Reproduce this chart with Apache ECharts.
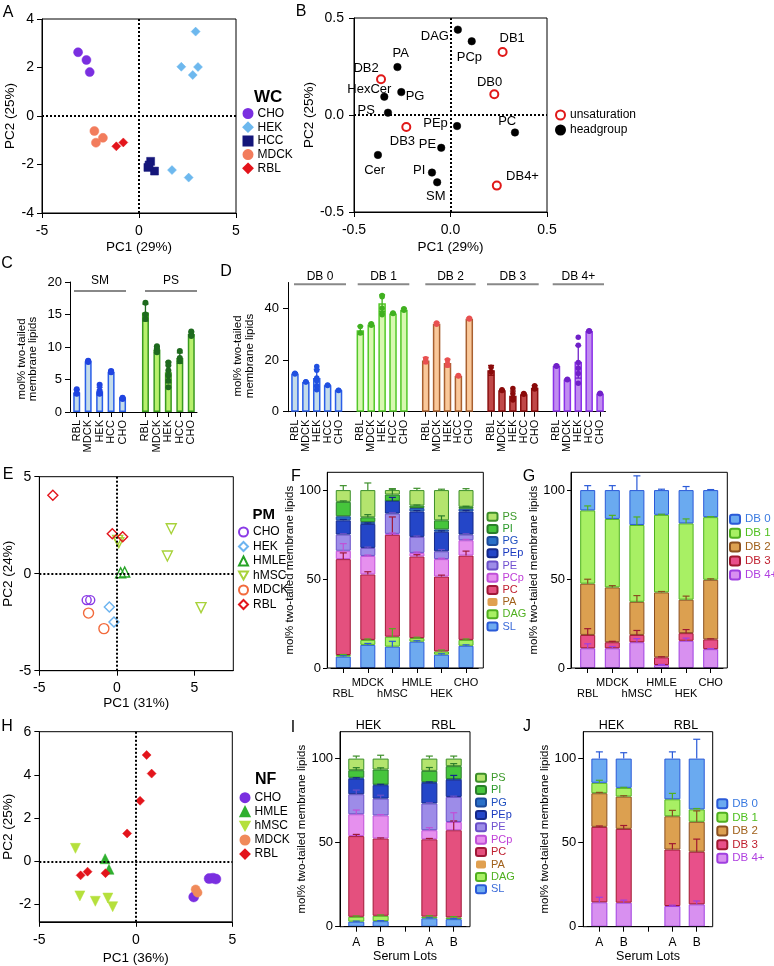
<!DOCTYPE html>
<html>
<head>
<meta charset="utf-8">
<title>Lipidomics figure</title>
<script src="https://cdn.jsdelivr.net/npm/echarts@6/dist/echarts.min.js"></script>
<style>
html,body{margin:0;padding:0;background:#fff;}
#chart{width:774px;height:966px;}
</style>
</head>
<body>
<div id="chart"></div>
<script>
// ================= DATA =================
// Panel A: whole-cell (WC) PCA scores [PC1, PC2]
const aCHO  = [[-3.14, 2.63], [-2.71, 2.31], [-2.54, 1.81]];
const aHEK  = [[2.92, 3.48], [2.18, 2.03], [3.04, 2.02], [2.77, 1.69], [1.70, -2.23], [2.56, -2.54]];
const aHCC  = [[0.60, -1.87], [0.46, -2.12], [0.80, -2.27], [0.52, -2.02]];
const aMDCK = [[-2.30, -0.62], [-2.22, -1.10], [-1.86, -0.90]];
const aRBL  = [[-1.17, -1.25], [-0.81, -1.09]];

// Panel B: loadings
const bHeadNames  = ['DAG', 'PCp', 'PA', 'HexCer', 'PG', 'PS', 'PEp', 'PC', 'PE', 'Cer', 'PI', 'SM'];
const bHeadPts    = [[0.038, 0.44], [0.11, 0.38], [-0.275, 0.247], [-0.343, 0.094], [-0.255, 0.118], [-0.324, 0.012],
                     [0.034, -0.057], [0.334, -0.09], [-0.048, -0.169], [-0.376, -0.206], [-0.096, -0.297], [-0.069, -0.347]];
const bUnsatNames = ['DB1', 'DB2', 'DB0', 'DB3', 'DB4+'];
const bUnsatPts   = [[0.27, 0.325], [-0.36, 0.184], [0.227, 0.107], [-0.229, -0.062], [0.24, -0.364]];

// Panel C: SM and PS (mol%)
const cellLines = ['RBL', 'MDCK', 'HEK', 'HCC', 'CHO'];
const cGroups   = ['SM', 'PS'];
const cSM       = [3.0, 7.8, 3.2, 6.2, 2.1];
const cSMerr    = [0.4, 0.1, 0.6, 0.2, 0.1];
const cSMpts    = [[3.5, 2.9, 2.8], [7.8, 7.7, 7.9], [4.2, 3.3, 2.9, 2.8], [6.3, 6.1, 6.2], [2.1, 2.0, 2.2]];
const cPS       = [15.3, 9.6, 6.1, 8.3, 12.0];
const cPSerr    = [1.3, 0.5, 1.6, 0.8, 0.3];
const cPSpts    = [[16.8, 15.0, 14.3], [10.1, 9.5, 9.2, 9.8], [7.6, 7.2, 6.4, 5.6, 4.8, 3.8], [9.4, 8.3, 7.8], [12.4, 11.9, 11.7]];

// Panel D: double bonds (mol%)
const dGroups  = ['DB 0', 'DB 1', 'DB 2', 'DB 3', 'DB 4+'];
const dDB0     = [14.8, 11.5, 13.0, 10.2, 8.3];
const dDB0err  = [0.3, 0.2, 3.4, 0.2, 0.1];
const dDB0pts  = [[14.9, 14.6], [11.5, 11.6], [17.5, 16.0, 13.0, 12.0, 10.0, 8.5], [10.3, 10.1], [8.3, 8.2]];
const dDB1     = [31.5, 33.7, 42.0, 38.0, 39.5];
const dDB1err  = [1.6, 0.5, 3.2, 0.2, 0.5];
const dDB1pts  = [[33.0, 30.5], [34.0, 33.5], [45.0, 44.5, 40.0, 38.0, 37.5], [38.0, 38.2], [39.8, 39.3]];
const dDB2     = [19.8, 34.0, 18.8, 13.8, 36.0];
const dDB2err  = [1.2, 0.5, 1.5, 0.3, 0.3];
const dDB2pts  = [[20.5, 19.3], [34.3, 33.8], [20.0, 18.5, 18.0], [14.0, 13.8], [36.2, 35.9]];
const dDB3     = [16.0, 8.3, 6.2, 6.8, 9.3];
const dDB3err  = [1.9, 0.2, 1.8, 0.3, 0.8];
const dDB3pts  = [[17.2, 15.5], [8.5, 8.2], [9.0, 7.0, 5.5, 4.5], [7.0, 6.8], [10.0, 9.2, 8.8]];
const dDB4     = [17.7, 12.5, 19.3, 31.2, 7.0];
const dDB4err  = [0.3, 0.2, 6.3, 0.3, 0.2];
const dDB4pts  = [[17.8, 17.6], [12.6, 12.4], [28.8, 25.7, 19.0, 16.8, 14.8, 11.0], [31.3, 31.1], [7.1, 6.9]];

// Panel E: plasma membrane (PM) PCA scores
const eCHO  = [[-1.95, -1.36], [-1.72, -1.36]];
const eHEK  = [[-0.49, -1.72], [-0.19, -2.49]];
const eHMLE = [[0.24, 0.05], [0.50, 0.09]];
const eMSC  = [[0.05, 1.72], [0.12, 1.60], [3.50, 2.32], [3.25, 0.91], [5.42, -1.75]];
const eMDCK = [[-1.83, -2.03], [-0.84, -2.83]];
const eRBL  = [[-4.13, 4.04], [-0.30, 2.06], [0.37, 1.91]];

// Panel F: PM headgroups (stack bottom -> top)
const pmLines = ['RBL', 'MDCK', 'hMSC', 'HMLE', 'HEK', 'CHO'];
const fSL  = [6.4, 13.0, 12.0, 14.8, 7.5, 12.5];
const fDAG = [0.9, 2.8, 5.6, 2.0, 1.8, 3.3];
const fPA  = [0, 0, 0, 0, 0, 0];
const fPC  = [53.9, 36.8, 57.3, 45.9, 42.1, 47.4];
const fPCp = [4.7, 10.4, 0.5, 2.0, 9.8, 8.6];
const fPE  = [9.1, 4.5, 11.4, 9.0, 4.4, 3.2];
const fPEp = [8.0, 13.5, 7.1, 14.3, 11.0, 13.0];
const fPG  = [2.3, 1.0, 0.0, 1.9, 1.3, 1.5];
const fPI  = [8.1, 2.7, 3.6, 1.4, 5.1, 1.1];
const fPS  = [6.6, 15.3, 2.5, 8.7, 17.0, 9.4];
const fErrSL  = [0.5, 0.8, 3.0, 0.5, 0.5, 0.5];
const fErrDAG = [0.3, 0.5, 4.5, 0.5, 0.8, 0.5];
const fErrPC  = [3.5, 1.5, 10.0, 1.0, 0.8, 2.5];
const fErrPCp = [4.0, 0.5, 0.5, 0.5, 0.5, 0.5];
const fErrPE  = [0.5, 0.5, 0.5, 0.5, 1.0, 0.5];
const fErrPEp = [0.5, 0.5, 2.0, 0.5, 0.5, 0.5];
const fErrPI  = [0.5, 1.5, 3.0, 0.3, 2.5, 0.3];
const fErrPS  = [2.5, 4.0, 0.8, 1.0, 0.5, 0.8];

// Panel G: PM double bonds (stack bottom -> top)
const gDB4 = [11.1, 11.1, 14.5, 1.7, 15.3, 10.6];
const gDB3 = [7.5, 3.4, 4.1, 4.3, 4.3, 5.5];
const gDB2 = [28.8, 30.8, 18.6, 36.5, 18.8, 33.5];
const gDB1 = [41.2, 38.5, 43.2, 43.6, 42.9, 35.2];
const gDB0 = [11.4, 16.2, 19.6, 13.9, 18.7, 15.2];
const gErrDB4 = [2.5, 1.0, 2.0, 0.3, 1.5, 0.3];
const gErrDB3 = [3.5, 0.5, 2.5, 0.3, 2.0, 0.3];
const gErrDB2 = [2.5, 1.0, 3.5, 0.5, 2.0, 0.5];
const gErrDB1 = [2.5, 2.0, 4.5, 0.3, 2.5, 0.3];
const gErrDB0 = [2.5, 2.5, 8.0, 0.5, 2.0, 0.3];

// Panel H: nanoflake (NF) PCA scores
const hCHO  = [[3.80, -0.80], [4.00, -0.78], [4.15, -0.82], [3.00, -1.65]];
const hHMLE = [[-1.59, 0.12], [-1.39, -0.37]];
const hMSC  = [[-3.13, 0.60], [-2.90, -1.60], [-2.10, -1.85], [-1.45, -1.70], [-1.20, -2.10]];
const hMDCK = [[3.10, -1.30], [3.20, -1.45]];
const hRBL  = [[0.56, 4.92], [0.82, 4.06], [0.22, 2.80], [-0.45, 1.29], [-2.86, -0.65], [-2.50, -0.48], [-1.57, -0.55]];

// Panels I/J: serum lots (HEK A, HEK B, gap, RBL A, RBL B)
const lotCats  = ['HEK|A', 'HEK|B', 'gap', 'RBL|A', 'RBL|B'];
const iSL  = [3.0, 3.3, '-', 5.0, 4.5];
const iDAG = [2.9, 3.2, '-', 1.0, 1.0];
const iPA  = [0, 0, '-', 0, 0];
const iPC  = [48.0, 46.0, '-', 46.0, 51.9];
const iPCp = [13.0, 13.7, '-', 5.4, 4.9];
const iPE  = [11.9, 10.0, '-', 15.9, 14.9];
const iPEp = [9.3, 8.0, '-', 12.3, 10.3];
const iPG  = [0.5, 0.3, '-', 0.4, 0.3];
const iPI  = [4.5, 9.0, '-', 6.7, 7.7];
const iPS  = [6.9, 6.5, '-', 7.3, 4.5];
const iErrSL  = [0.3, 0.3, '-', 0.3, 0.3];
const iErrDAG = [0.5, 0.5, '-', 0.5, 0.5];
const iErrPC  = [1.0, 0.3, '-', 0.5, 5.5];
const iErrPCp = [2.5, 0.5, '-', 1.5, 5.5];
const iErrPE  = [2.5, 2.0, '-', 0.5, 0.5];
const iErrPEp = [0.5, 0.5, '-', 0.5, 2.5];
const iErrPI  = [1.5, 1.0, '-', 2.0, 1.5];
const iErrPS  = [1.5, 2.0, '-', 1.5, 1.5];

const jDB4 = [14.5, 14.3, '-', 12.3, 13.3];
const jDB3 = [44.9, 43.9, '-', 33.6, 31.3];
const jDB2 = [20.0, 19.2, '-', 19.8, 17.8];
const jDB1 = [6.2, 5.2, '-', 10.1, 7.4];
const jDB0 = [14.4, 17.4, '-', 24.2, 30.2];
const jErrDB4 = [3.0, 1.5, '-', 0.5, 2.0];
const jErrDB3 = [0.5, 2.0, '-', 3.5, 7.5];
const jErrDB2 = [0.5, 0.5, '-', 3.5, 6.5];
const jErrDB1 = [1.5, 0.3, '-', 3.5, 0.5];
const jErrDB0 = [4.0, 3.5, '-', 4.0, 11.5];

// ================= HELPERS =================
const FONT = "'Liberation Sans', Arial, Helvetica, sans-serif";
const DOWN_TRI = 'path://M0,0 L10,0 L5,9 Z';
const grids = [], xAxes = [], yAxes = [], series = [], legends = [], graphics = [];
const lbl = n => n.split('|')[1];

function valAxis(gi, c) {
  return {
    type: 'value', gridIndex: gi, min: c.min, max: c.max, offset: c.offset || 0,
    axisLine: {show: true, onZero: false, lineStyle: {color: '#000', width: 1}},
    axisTick: {show: true, length: c.tickLen || 5, customValues: c.ticks, lineStyle: {color: '#000', width: 1}},
    axisLabel: {show: true, customValues: c.ticks, margin: c.margin, fontSize: c.fs || 14, fontFamily: FONT, color: '#000', formatter: c.fmt},
    splitLine: {show: false},
    name: c.name, nameLocation: 'middle', nameGap: c.gap,
    nameTextStyle: {fontFamily: FONT, fontSize: c.nfs || 13.5, color: '#000'}
  };
}
function catAxis(gi, data, c) {
  return {
    type: 'category', gridIndex: gi, data: data, boundaryGap: true,
    axisLine: {show: true, onZero: false, lineStyle: {color: '#000', width: 1}},
    axisTick: {show: true, alignWithLabel: true, length: c.tickLen || 5, interval: c.tickInterval || 0, lineStyle: {color: '#000', width: 1}},
    axisLabel: {interval: 0, rotate: c.rotate || 0, margin: c.margin, fontSize: c.fs || 11, fontFamily: FONT, color: '#000',
                formatter: c.fmt, lineHeight: c.lh},
    splitLine: {show: false},
    name: c.name, nameLocation: 'middle', nameGap: c.gap,
    nameTextStyle: {fontFamily: FONT, fontSize: c.nfs || 12.5, color: '#000'}
  };
}
function boxGrid(box) {
  return Object.assign({show: true, borderColor: '#000', borderWidth: 1, backgroundColor: 'transparent', containLabel: false}, box);
}
function plainGrid(box) {
  return Object.assign({show: false, containLabel: false}, box);
}
const zeroLines = {
  silent: true, symbol: ['none', 'none'], label: {show: false}, animation: false,
  lineStyle: {type: 'dotted', color: '#000', width: 2},
  data: [{xAxis: 0}, {yAxis: 0}]
};
function sc(gi, name, data, sym, size, color, hollow, withZero) {
  const s = {
    type: 'scatter', name: name, xAxisIndex: gi, yAxisIndex: gi, data: data,
    symbol: sym, symbolSize: size, z: 3,
    itemStyle: hollow ? {color: 'rgba(255,255,255,0)', borderColor: color, borderWidth: 1.4, opacity: 1}
                      : {color: color, borderColor: color, borderWidth: 0.5, opacity: 1}
  };
  if (withZero) s.markLine = zeroLines;
  return s;
}
function errSeries(gi, data, color, capW, twoSided, lw) {
  return {
    type: 'custom', xAxisIndex: gi, yAxisIndex: gi, data: data, z: 5, silent: true,
    encode: {x: 0, y: [1, 2]},
    renderItem: function (params, api) {
      const x = api.value(0), lo = api.value(1), hi = api.value(2);
      const a = api.coord([x, lo]), b = api.coord([x, hi]);
      const st = {stroke: color, lineWidth: lw || 1.2, fill: null};
      const ch = [
        {type: 'line', shape: {x1: a[0], y1: a[1], x2: b[0], y2: b[1]}, style: st},
        {type: 'line', shape: {x1: b[0] - capW / 2, y1: b[1], x2: b[0] + capW / 2, y2: b[1]}, style: st}
      ];
      if (twoSided) ch.push({type: 'line', shape: {x1: a[0] - capW / 2, y1: a[1], x2: a[0] + capW / 2, y2: a[1]}, style: st});
      return {type: 'group', children: ch};
    }
  };
}
function legendBox(cfg, names, colors) {
  return {
    orient: 'vertical', left: cfg.left, top: cfg.top, itemWidth: cfg.iw, itemHeight: cfg.ih, itemGap: cfg.gap,
    padding: 0, selectedMode: false, formatter: lbl,
    data: names.map((n, i) => ({name: n, textStyle: {color: colors ? colors[i] : '#000'}})),
    textStyle: {fontFamily: FONT, fontSize: cfg.fs, lineHeight: cfg.lh, color: '#000'}
  };
}
function text(t, x, y, size, extra) {
  return Object.assign({type: 'text', x: x, y: y, silent: true,
    style: Object.assign({text: t, fontFamily: FONT, fontSize: size, fill: '#000', align: 'center', verticalAlign: 'middle'}, extra || {})});
}
function hline(x1, x2, y, color, w) {
  return {type: 'line', silent: true, shape: {x1: x1, y1: y, x2: x2, y2: y}, style: {stroke: color || '#888', lineWidth: w || 2}};
}
function frame(x, y, w, h) {
  return {type: 'rect', silent: true, z: 10, shape: {x: x, y: y, width: w, height: h}, style: {fill: null, stroke: '#000', lineWidth: 1}};
}

// stacked panel: layers bottom -> top
function stackPanel(gi, key, layers, barW) {
  const n = layers[0].values.length;
  const cum = new Array(n).fill(0);
  layers.forEach(L => {
    series.push({
      type: 'bar', name: key + '|' + L.name, xAxisIndex: gi, yAxisIndex: gi, stack: key, data: L.values,
      barWidth: barW, z: 2,
      itemStyle: {color: L.fill, borderColor: L.border, borderWidth: L.bw === undefined ? 1 : L.bw}
    });
    const errData = [];
    for (let i = 0; i < n; i++) {
      const v = L.values[i];
      if (v === '-') continue;
      cum[i] += v;
      if (L.err && L.err[i] !== '-' && L.err[i] > 0) errData.push([i, cum[i], cum[i] + L.err[i]]);
    }
    if (errData.length) series.push(errSeries(gi, errData, L.border, 7, false, 1.2));
  });
}

// ================= PANEL A =================
grids[0] = boxGrid({left: 42, top: 19, width: 194, height: 194});
xAxes[0] = valAxis(0, {min: -5, max: 5, ticks: [-5, 0, 5], margin: 11, name: 'PC1 (29%)', gap: 27});
yAxes[0] = valAxis(0, {min: -4, max: 4, ticks: [-4, -2, 0, 2, 4], margin: 8, name: 'PC2 (25%)', gap: 23});
series.push(sc(0, 'A|CHO', aCHO, 'circle', 9, '#7a2fe0', false, true));
series.push(sc(0, 'A|HEK', aHEK, 'diamond', 9, '#6db8ee'));
series.push(sc(0, 'A|HCC', aHCC, 'rect', 8, '#15167a'));
series.push(sc(0, 'A|MDCK', aMDCK, 'circle', 9, '#f27c5c'));
series.push(sc(0, 'A|RBL', aRBL, 'diamond', 9, '#e3141b'));
legends.push(legendBox({left: 242.5, top: 107, iw: 9, ih: 9, gap: 0.7, fs: 12, lh: 13},
  ['A|CHO', 'A|HEK', 'A|HCC', 'A|MDCK', 'A|RBL']));
graphics.push(text('WC', 254, 97, 17, {fontWeight: 'bold', align: 'left'}));

// ================= PANEL B =================
const bHeadOffset  = [[-23, 6.7], [-2.3, 16.6], [3.2, -13.7], [-15, -7.4], [13.8, 4.7], [-21.7, -2.7],
                      [-21.5, -2.7], [-7.8, -10.6], [-13.7, -3.4], [-3.3, 15], [-12.8, -2], [-1.4, 13.7]];
const bUnsatOffset = [[9.6, -13.7], [-15, -11], [-4.7, -11.6], [-3.9, 14.7], [25.7, -9]];
grids[1] = boxGrid({left: 354, top: 18, width: 193, height: 194});
xAxes[1] = valAxis(1, {min: -0.5, max: 0.5, ticks: [-0.5, 0, 0.5], margin: 11, name: 'PC1 (29%)', gap: 28, fmt: v => v.toFixed(1)});
yAxes[1] = valAxis(1, {min: -0.5, max: 0.5, ticks: [-0.5, 0, 0.5], margin: 10, name: 'PC2 (25%)', gap: 30, fmt: v => v.toFixed(1)});
const bLabel = {show: true, position: 'inside', formatter: '{b}', color: '#000', fontFamily: FONT, fontSize: 13};
const bHeadSeries = sc(1, 'B|headgroup', bHeadPts.map((p, i) => ({name: bHeadNames[i], value: p, label: {offset: bHeadOffset[i]}})),
  'circle', 7.5, '#000', false, true);
bHeadSeries.label = bLabel;
const bUnsatSeries = sc(1, 'B|unsaturation', bUnsatPts.map((p, i) => ({name: bUnsatNames[i], value: p, label: {offset: bUnsatOffset[i]}})),
  'circle', 8, '#e01818', true);
bUnsatSeries.itemStyle.borderWidth = 2;
bUnsatSeries.label = bLabel;
series.push(bUnsatSeries, bHeadSeries);
legends.push(legendBox({left: 555, top: 108.5, iw: 9, ih: 9, gap: 2, fs: 12, lh: 13}, ['B|unsaturation', 'B|headgroup']));

// ================= PANEL C =================
const catsC = [];
cGroups.forEach((g, gi) => { if (gi) catsC.push('gap'); cellLines.forEach(c => catsC.push(g + '|' + c)); });
const showCat = (i, v) => v !== 'gap';
const catFmt = v => (v === 'gap' ? '' : lbl(v));
grids[2] = plainGrid({left: 71, top: 282, width: 126, height: 130});
xAxes[2] = catAxis(2, catsC, {rotate: 90, margin: 8, fs: 11, fmt: catFmt, tickInterval: showCat});
yAxes[2] = valAxis(2, {min: 0, max: 20, ticks: [0, 5, 10, 15, 20], margin: 8, fs: 13, offset: 1});
const cSets = [
  {vals: cSM, err: cSMerr, pts: cSMpts, fill: '#c4dcea', border: '#2a5ee8', dot: '#2044e0'},
  {vals: cPS, err: cPSerr, pts: cPSpts, fill: '#b8f06c', border: '#3a9a20', dot: '#1e6a1e'}
];
cSets.forEach((s, g) => {
  const off = g * 6;
  const data = catsC.map(() => '-');
  s.vals.forEach((v, k) => { data[off + k] = v; });
  series.push({type: 'bar', xAxisIndex: 2, yAxisIndex: 2, data: data, barWidth: 7, barGap: '-100%', z: 2,
    itemStyle: {color: s.fill, borderColor: s.border, borderWidth: 1.5}});
  series.push(errSeries(2, s.vals.map((v, k) => [off + k, v - s.err[k], v + s.err[k]]), s.dot, 6, true, 1.3));
  const pts = [];
  s.pts.forEach((arr, k) => arr.forEach(p => pts.push([off + k, p])));
  series.push({type: 'scatter', xAxisIndex: 2, yAxisIndex: 2, data: pts, symbol: 'circle', symbolSize: 6, z: 6,
    itemStyle: {color: s.dot, opacity: 1}});
});
graphics.push(text('mol% two-tailed\nmembrane lipids', 27.5, 359, 11.5, {lineHeight: 11.6}));
graphics[graphics.length - 1].rotation = Math.PI / 2;
graphics.push(hline(74, 126, 291), text('SM', 100, 281, 12));
graphics.push(hline(145, 197, 291), text('PS', 171, 281, 12));

// ================= PANEL D =================
const catsD = [];
dGroups.forEach((g, gi) => { if (gi) catsD.push('gap'); cellLines.forEach(c => catsD.push(g + '|' + c)); });
grids[3] = plainGrid({left: 289.5, top: 282.5, width: 316, height: 129.2});
xAxes[3] = catAxis(3, catsD, {rotate: 90, margin: 8, fs: 11, fmt: catFmt, tickInterval: showCat});
yAxes[3] = valAxis(3, {min: 0, max: 50, ticks: [0, 20, 40], margin: 9, fs: 13, offset: 1.5});
const dSets = [
  {vals: dDB0, err: dDB0err, pts: dDB0pts, fill: '#c4dcea', border: '#2a5ee8', dot: '#2050e0'},
  {vals: dDB1, err: dDB1err, pts: dDB1pts, fill: '#d8f8b0', border: '#52c828', dot: '#40b020'},
  {vals: dDB2, err: dDB2err, pts: dDB2pts, fill: '#fac89a', border: '#a86030', dot: '#e85050'},
  {vals: dDB3, err: dDB3err, pts: dDB3pts, fill: '#c04848', border: '#8a1010', dot: '#8a0a0a'},
  {vals: dDB4, err: dDB4err, pts: dDB4pts, fill: '#c08cf0', border: '#8a30e8', dot: '#7020c8'}
];
dSets.forEach((s, g) => {
  const off = g * 6;
  const data = catsD.map(() => '-');
  s.vals.forEach((v, k) => { data[off + k] = v; });
  series.push({type: 'bar', xAxisIndex: 3, yAxisIndex: 3, data: data, barWidth: 7.5, barGap: '-100%', z: 2,
    itemStyle: {color: s.fill, borderColor: s.border, borderWidth: 1.5}});
  series.push(errSeries(3, s.vals.map((v, k) => [off + k, v - s.err[k], v + s.err[k]]), s.dot, 6, true, 1.3));
  const pts = [];
  s.pts.forEach((arr, k) => arr.forEach(p => pts.push([off + k, p])));
  series.push({type: 'scatter', xAxisIndex: 3, yAxisIndex: 3, data: pts, symbol: 'circle', symbolSize: 5.5, z: 6,
    itemStyle: {color: s.dot, opacity: 1}});
});
graphics.push(text('mol% two-tailed\nmembrane lipids', 244, 356, 11.5, {lineHeight: 11.6}));
graphics[graphics.length - 1].rotation = Math.PI / 2;
[[294, 346], [357.7, 409.3], [425.3, 475.7], [487, 538.7], [552.7, 604]].forEach((r, i) => {
  graphics.push(hline(r[0], r[1], 284.3), text(dGroups[i], (r[0] + r[1]) / 2, 276.5, 12));
});

// ================= PANEL E =================
grids[4] = boxGrid({left: 39, top: 476.7, width: 194.3, height: 194});
xAxes[4] = valAxis(4, {min: -5, max: 7.5, ticks: [-5, 0, 5], margin: 10, name: 'PC1 (31%)', gap: 26});
yAxes[4] = valAxis(4, {min: -5, max: 5, ticks: [-5, 0, 5], margin: 8, name: 'PC2 (24%)', gap: 19});
series.push(sc(4, 'E|CHO', eCHO, 'circle', 9, '#8a3ae6', true, true));
series.push(sc(4, 'E|HEK', eHEK, 'diamond', 10, '#6cb4f0', true));
series.push(sc(4, 'E|HMLE', eHMLE, 'triangle', 10, '#27a327', true));
series.push(sc(4, 'E|hMSC', eMSC, DOWN_TRI, 10, '#a8d23a', true));
series.push(sc(4, 'E|MDCK', eMDCK, 'circle', 10, '#f26a3c', true));
series.push(sc(4, 'E|RBL', eRBL, 'diamond', 10, '#e3141b', true));
legends.push(legendBox({left: 238, top: 525.5, iw: 9, ih: 9, gap: 1.5, fs: 12, lh: 13},
  ['E|CHO', 'E|HEK', 'E|HMLE', 'E|hMSC', 'E|MDCK', 'E|RBL']));
graphics.push(text('PM', 252.5, 515, 15, {fontWeight: 'bold', align: 'left'}));

// ================= PANEL F =================
const hgStyle = {
  SL:  {fill: '#6eaaf0', border: '#2a5ad8', text: '#3a6ad8'},
  DAG: {fill: '#a8f064', border: '#50b020', text: '#50b020'},
  PA:  {fill: '#e0a050', border: '#a06020', text: '#a0601a'},
  PC:  {fill: '#e4507e', border: '#a01838', text: '#c02030'},
  PCp: {fill: '#e690ee', border: '#c050d8', text: '#c040d8'},
  PE:  {fill: '#9d8ce8', border: '#6a50c8', text: '#7050d0'},
  PEp: {fill: '#2446c8', border: '#14288a', text: '#1a3ac0'},
  PG:  {fill: '#2a70c8', border: '#1c4a9a', text: '#2050c0'},
  PI:  {fill: '#46c53c', border: '#2a7d2a', text: '#2a9a2a'},
  PS:  {fill: '#b4e46e', border: '#3d8f2a', text: '#3d9a2a'}
};
const hgOrder = ['SL', 'DAG', 'PA', 'PC', 'PCp', 'PE', 'PEp', 'PG', 'PI', 'PS'];
const legendHG = hgOrder.slice().reverse();
function hgLayers(vals, errs) {
  return hgOrder.map((h, i) => ({name: h, values: vals[i], err: errs[i], fill: hgStyle[h].fill, border: hgStyle[h].border,
    bw: h === 'PA' ? 0 : 1}));
}
grids[5] = plainGrid({left: 331, top: 472.3, width: 147.3, height: 195.7});
xAxes[5] = catAxis(5, pmLines, {margin: 9.5, fs: 11, lh: 11, tickLen: 5, fmt: (v, i) => (i % 2 === 0 ? '\n' : '') + v});
yAxes[5] = valAxis(5, {min: 0, max: 110, ticks: [0, 50, 100], margin: 6, fs: 13, tickLen: 4, offset: 4,
  name: 'mol% two-tailed membrane lipids', gap: 24, nfs: 11.5});
stackPanel(5, 'F', hgLayers([fSL, fDAG, fPA, fPC, fPCp, fPE, fPEp, fPG, fPI, fPS],
  [fErrSL, fErrDAG, null, fErrPC, fErrPCp, fErrPE, fErrPEp, null, fErrPI, fErrPS]), 15);
legends.push(legendBox({left: 486.5, top: 510.7, iw: 10, ih: 8, gap: 0.2, fs: 11, lh: 12},
  legendHG.map(h => 'F|' + h), legendHG.map(h => hgStyle[h].text)));
graphics.push(frame(327.3, 472.3, 156, 195.7));

// ================= PANEL G =================
const dbStyle = {
  DB4: {label: 'DB 4+', fill: '#d890f0', border: '#a040e0', text: '#b040e0'},
  DB3: {label: 'DB 3', fill: '#e8508a', border: '#a01830', text: '#c02030'},
  DB2: {label: 'DB 2', fill: '#dca050', border: '#8a5020', text: '#a0601a'},
  DB1: {label: 'DB 1', fill: '#a8f064', border: '#50b020', text: '#50c020'},
  DB0: {label: 'DB 0', fill: '#6aaaf0', border: '#2a5ad8', text: '#3a7ae0'}
};
const dbOrder = ['DB4', 'DB3', 'DB2', 'DB1', 'DB0'];
function dbLayers(vals, errs) {
  return dbOrder.map((d, i) => ({name: dbStyle[d].label, values: vals[i], err: errs[i], fill: dbStyle[d].fill, border: dbStyle[d].border}));
}
const legendDB = dbOrder.slice().reverse();
grids[6] = plainGrid({left: 575.4, top: 472.3, width: 147.6, height: 195.7});
xAxes[6] = catAxis(6, pmLines, {margin: 9.5, fs: 11, lh: 11, tickLen: 5, fmt: (v, i) => (i % 2 === 0 ? '\n' : '') + v});
yAxes[6] = valAxis(6, {min: 0, max: 110, ticks: [0, 50, 100], margin: 6, fs: 13, tickLen: 4, offset: 4.4,
  name: 'mol% two-tailed membrane lipids', gap: 24, nfs: 11.5});
stackPanel(6, 'G', dbLayers([gDB4, gDB3, gDB2, gDB1, gDB0], [gErrDB4, gErrDB3, gErrDB2, gErrDB1, gErrDB0]), 15);
legends.push(legendBox({left: 729, top: 512.8, iw: 10, ih: 9, gap: 0.9, fs: 11.5, lh: 13},
  legendDB.map(d => 'G|' + dbStyle[d].label), legendDB.map(d => dbStyle[d].text)));
graphics.push(frame(571, 472.3, 156.3, 195.7));

// ================= PANEL H =================
grids[7] = boxGrid({left: 37.3, top: 731.7, width: 195, height: 190.1});
xAxes[7] = valAxis(7, {min: -5, max: 5, ticks: [-5, 0, 5], margin: 11, name: 'PC1 (36%)', gap: 29});
yAxes[7] = valAxis(7, {min: -2.8, max: 6, ticks: [-2, 0, 2, 4, 6], margin: 8, name: 'PC2 (25%)', gap: 19});
series.push(sc(7, 'H|CHO', hCHO, 'circle', 10, '#7a2fe0', false, true));
series.push(sc(7, 'H|HMLE', hHMLE, 'triangle', 10, '#2fb02f'));
series.push(sc(7, 'H|hMSC', hMSC, DOWN_TRI, 10, '#b5e03c'));
series.push(sc(7, 'H|MDCK', hMDCK, 'circle', 9, '#f08a5a'));
series.push(sc(7, 'H|RBL', hRBL, 'diamond', 9, '#e3141b'));
legends.push(legendBox({left: 239.5, top: 791.2, iw: 9, ih: 9, gap: 1.1, fs: 12, lh: 13},
  ['H|CHO', 'H|HMLE', 'H|hMSC', 'H|MDCK', 'H|RBL']));
graphics.push(text('NF', 255, 780, 16, {fontWeight: 'bold', align: 'left'}));

// ================= PANEL I =================
const lotFmt = v => (v === 'gap' ? '' : lbl(v));
grids[8] = plainGrid({left: 344.1, top: 731.7, width: 121.8, height: 195});
xAxes[8] = catAxis(8, lotCats, {margin: 10, fs: 12, fmt: lotFmt, name: 'Serum Lots', gap: 20, nfs: 12.5});
yAxes[8] = valAxis(8, {min: 0, max: 116, ticks: [0, 50, 100], margin: 7, fs: 13, tickLen: 5, offset: 4,
  name: 'mol% two-tailed membrane lipids', gap: 26, nfs: 11.5});
stackPanel(8, 'I', hgLayers([iSL, iDAG, iPA, iPC, iPCp, iPE, iPEp, iPG, iPI, iPS],
  [iErrSL, iErrDAG, null, iErrPC, iErrPCp, iErrPE, iErrPEp, null, iErrPI, iErrPS]), 16);
legends.push(legendBox({left: 475, top: 771.7, iw: 10, ih: 8, gap: 0.4, fs: 11, lh: 12},
  legendHG.map(h => 'I|' + h), legendHG.map(h => hgStyle[h].text)));
graphics.push(frame(340, 731.7, 130, 195));
graphics.push(text('HEK', 368.5, 725.5, 12.5), text('RBL', 443.5, 725.5, 12.5));

// ================= PANEL J =================
grids[9] = plainGrid({left: 587.2, top: 731.7, width: 121.7, height: 195});
xAxes[9] = catAxis(9, lotCats, {margin: 10, fs: 12, fmt: lotFmt, name: 'Serum Lots', gap: 20, nfs: 12.5});
yAxes[9] = valAxis(9, {min: 0, max: 116, ticks: [0, 50, 100], margin: 7, fs: 13, tickLen: 5, offset: 4,
  name: 'mol% two-tailed membrane lipids', gap: 27, nfs: 11.5});
stackPanel(9, 'J', dbLayers([jDB4, jDB3, jDB2, jDB1, jDB0], [jErrDB4, jErrDB3, jErrDB2, jErrDB1, jErrDB0]), 16);
legends.push(legendBox({left: 716.3, top: 797.2, iw: 10, ih: 9, gap: 0.65, fs: 11.5, lh: 13},
  legendDB.map(d => 'J|' + dbStyle[d].label), legendDB.map(d => dbStyle[d].text)));
graphics.push(frame(583.3, 731.7, 129.4, 195));
graphics.push(text('HEK', 611.5, 725.5, 12.5), text('RBL', 686, 725.5, 12.5));

// ================= PANEL LETTERS =================
[['A', 8, 13], ['B', 301, 12], ['C', 7, 264], ['D', 226, 272], ['E', 8, 475], ['F', 296, 477],
 ['G', 529, 477], ['H', 7, 727], ['I', 293, 728], ['J', 527, 727]].forEach(p => graphics.push(text(p[0], p[1], p[2], 16)));

// ================= RENDER =================
const chart = echarts.init(document.getElementById('chart'), null, {renderer: 'canvas', width: 774, height: 966});
chart.setOption({
  animation: false,
  backgroundColor: '#fff',
  textStyle: {fontFamily: FONT},
  grid: grids, xAxis: xAxes, yAxis: yAxes,
  legend: legends, series: series, graphic: graphics
});
</script>
</body>
</html>
